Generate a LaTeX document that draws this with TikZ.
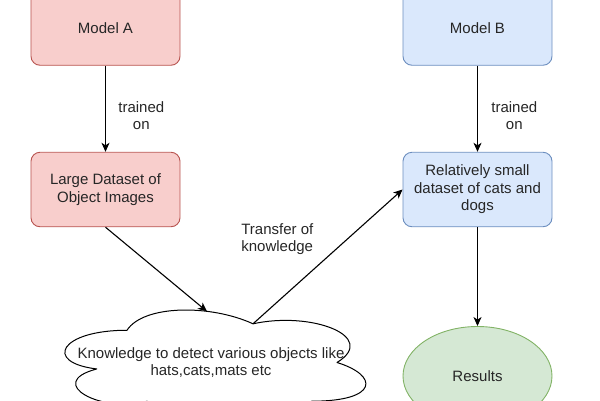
\documentclass[tikz,border=0pt]{standalone}
\usepackage{fontspec}
\setmainfont{Liberation Sans}
\usepackage{tikz}
\usetikzlibrary{shapes.geometric, arrows.meta, positioning}
\definecolor{pinkfill}{HTML}{F8CECC}
\definecolor{pinkline}{HTML}{B85450}
\definecolor{bluefill}{HTML}{DAE8FC}
\definecolor{blueline}{HTML}{6C8EBF}
\definecolor{greenfill}{HTML}{D5E8D4}
\definecolor{greenline}{HTML}{82B366}
\tikzstyle{pinkbox} = [rectangle, rounded corners=9pt, minimum width=149pt, minimum height=74.5pt, align=center, draw=pinkline, fill=pinkfill, line width=0.9pt]
\tikzstyle{bluebox} = [rectangle, rounded corners=9pt, minimum width=149pt, minimum height=74.5pt, align=center, draw=blueline, fill=bluefill, line width=0.9pt]
\tikzstyle{outcome} = [ellipse, minimum width=149pt, minimum height=99pt, align=center, draw=greenline, fill=greenfill, line width=0.9pt]
\tikzstyle{cloudtext} = [rectangle, minimum width=336pt, minimum height=129pt, outer sep=0pt, align=center]
\tikzstyle{cloudline} = [line width=1pt, line join=round]
\tikzstyle{arrow} = [line width=1.1pt,-{Stealth[length=9pt,width=8pt,inset=2.5pt]}]

\begin{document}
\begin{tikzpicture}[node distance=161.5pt, font=\fontsize{15}{17.5}\selectfont, text=black!85]
\useasboundingbox (-105.5pt,28pt) rectangle (494.5pt,-372pt);

% Nodes / blocks
\node (modelA) [pinkbox] {Model A};
\node (largeData) [pinkbox, below of=modelA] {Large Dataset of\\Object Images};
\node (modelB) [bluebox, right of=modelA, xshift=210.5pt] {Model B};
\node (smallData) [bluebox, below of=modelB] {Relatively small\\dataset of cats and\\dogs};
\node (results) [outcome, below of=smallData, yshift=-25pt] {Results};
\node (knowledge) [cloudtext, below of=largeData, xshift=105.5pt, yshift=-11.5pt] {Knowledge to detect various objects like\\hats,cats,mats etc};

% Cloud outline
\begin{scope}[shift={(knowledge.north west)}, x=336pt, y=-129pt]
\draw [cloudline] (0.25,0.25) .. controls (0.05,0.25) and (0,0.5) .. (0.16,0.55)
  .. controls (0,0.66) and (0.18,0.9) .. (0.31,0.8)
  .. controls (0.4,1) and (0.7,1) .. (0.8,0.8)
  .. controls (1,0.8) and (1,0.6) .. (0.875,0.5)
  .. controls (1,0.3) and (0.8,0.1) .. (0.625,0.2)
  .. controls (0.5,0.05) and (0.3,0.05) .. (0.25,0.25) -- cycle;
\coordinate (cloudTop) at (0.488,0.104);
\coordinate (cloudDip) at (0.625,0.2);
\end{scope}

% Arrows
\draw [arrow] (modelA) -- node[pos=0.58, anchor=west, xshift=9pt, align=center] {trained\\on} (largeData);
\draw [arrow] (modelB) -- node[pos=0.58, anchor=west, xshift=10pt, align=center] {trained\\on} (smallData);
\draw [arrow] (largeData.south) -- (cloudTop);
\draw [arrow] (cloudDip) -- node[pos=0.63, anchor=east, xshift=-30pt, align=left] {Transfer of\\knowledge} (smallData.west);
\draw [arrow] (smallData) -- (results);

\end{tikzpicture}
\end{document}
